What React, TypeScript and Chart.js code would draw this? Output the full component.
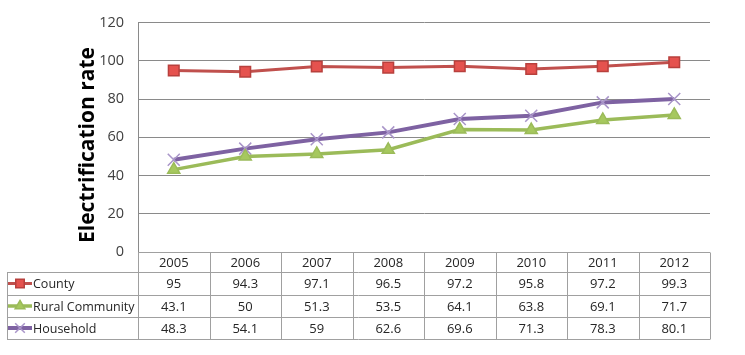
import React, { useEffect, useRef } from 'react';
import { Chart, registerables } from 'chart.js';
import { drawPoint } from 'chart.js/helpers';

Chart.register(...registerables);

const years = ['2005', '2006', '2007', '2008', '2009', '2010', '2011', '2012'];
const county = [95, 94.3, 97.1, 96.5, 97.2, 95.8, 97.2, 99.3];
const rural = [43.1, 50, 51.3, 53.5, 64.1, 63.8, 69.1, 71.7];
const household = [48.3, 54.1, 59, 62.6, 69.6, 71.3, 78.3, 80.1];
const seriesNames = ['County', 'Rural Community', 'Household'];
const yMin = 0;
const yMax = 120;
const yStep = 20;
const yTitle = 'Electrification rate';

const FONT = "'Open Sans', 'Noto Sans', sans-serif";
const GRID = '#8a8a8a';
const TABLE_LINE = '#a0a0a0';

const styles = [
  { line: '#C0504D', fill: '#E5524E', border: '#B8403D', point: 'rect', radius: 7.5, width: 3 },
  { line: '#9BBB59', fill: '#A6C85E', border: '#9BBB59', point: 'triangle', radius: 7, width: 3.5 },
  { line: '#7E62A2', fill: '#A995C9', border: '#A995C9', point: 'crossRot', radius: 8.5, width: 4 },
];

const tablePlugin = {
  id: 'dataTable',
  afterDraw(chart: any) {
    const { ctx, chartArea } = chart;
    const left = chartArea.left;
    const right = chartArea.right;
    const top = chartArea.bottom;
    const n = years.length;
    const colW = (right - left) / n;
    const tableLeft = 7;
    const rowBounds = [top, top + 20, top + 43, top + 65, top + 87];
    const rows = [county, rural, household];

    ctx.save();
    ctx.strokeStyle = TABLE_LINE;
    ctx.lineWidth = 1;
    ctx.beginPath();
    rowBounds.forEach((y, i) => {
      const yy = Math.round(y) + 0.5;
      ctx.moveTo(i === 0 ? left : tableLeft, yy);
      ctx.lineTo(right, yy);
    });
    for (let i = 0; i <= n; i++) {
      const xx = Math.round(left + i * colW) + 0.5;
      ctx.moveTo(xx, Math.round(rowBounds[0]) + 0.5);
      ctx.lineTo(xx, Math.round(rowBounds[4]) + 0.5);
    }
    ctx.moveTo(tableLeft + 0.5, Math.round(rowBounds[1]) + 0.5);
    ctx.lineTo(tableLeft + 0.5, Math.round(rowBounds[4]) + 0.5);
    ctx.stroke();

    ctx.fillStyle = '#262626';
    ctx.font = `13px ${FONT}`;
    ctx.textAlign = 'center';
    ctx.textBaseline = 'middle';
    const xScale = chart.scales.x;
    years.forEach((yr, i) => {
      const cx = xScale.getPixelForValue(i);
      ctx.fillText(yr, cx, (rowBounds[0] + rowBounds[1]) / 2 + 1);
      rows.forEach((r, j) => {
        ctx.fillText(String(r[i]), cx, (rowBounds[j + 1] + rowBounds[j + 2]) / 2 + 1);
      });
    });

    ctx.font = `12.5px ${FONT}`;
    rows.forEach((_, j) => {
      const cy = (rowBounds[j + 1] + rowBounds[j + 2]) / 2;
      const s = styles[j];
      ctx.strokeStyle = s.line;
      ctx.lineWidth = s.width;
      ctx.beginPath();
      ctx.moveTo(8, cy);
      ctx.lineTo(32, cy);
      ctx.stroke();
      ctx.fillStyle = s.fill;
      ctx.strokeStyle = s.border;
      ctx.lineWidth = 1.5;
      drawPoint(ctx, { pointStyle: s.point, radius: s.radius * 0.8, rotation: 0, borderWidth: 1.5 }, 20, cy);
      ctx.fillStyle = '#262626';
      ctx.textAlign = 'left';
      ctx.fillText(seriesNames[j], 33, cy + 1);
    });

    ctx.save();
    ctx.translate(94, 145);
    ctx.rotate(-Math.PI / 2);
    ctx.font = `bold 21px ${FONT}`;
    ctx.fillStyle = '#000000';
    ctx.textAlign = 'center';
    ctx.textBaseline = 'alphabetic';
    ctx.fillText(yTitle, 0, 0);
    ctx.restore();

    ctx.restore();
  },
};

export default function App() {
  const canvasRef = useRef<HTMLCanvasElement | null>(null);

  useEffect(() => {
    if (!canvasRef.current) return;
    const data = [county, rural, household];
    const chart = new Chart(canvasRef.current, {
      type: 'line',
      data: {
        labels: years,
        datasets: data.map((d, i) => ({
          label: seriesNames[i],
          data: d,
          borderColor: styles[i].line,
          borderWidth: styles[i].width,
          backgroundColor: styles[i].fill,
          pointStyle: styles[i].point as any,
          pointRadius: styles[i].radius,
          pointBackgroundColor: styles[i].fill,
          pointBorderColor: styles[i].border,
          pointBorderWidth: 1.5,
          tension: 0,
          fill: false,
        })),
      },
      options: {
        animation: false,
        responsive: true,
        maintainAspectRatio: false,
        layout: {
          autoPadding: false,
          padding: { left: 0, top: 9, right: 35, bottom: 103 },
        },
        plugins: {
          legend: { display: false },
          tooltip: { enabled: false },
          title: { display: false },
        },
        scales: {
          x: {
            type: 'category',
            display: false,
            offset: true,
          },
          y: {
            min: yMin,
            max: yMax,
            ticks: {
              stepSize: yStep,
              padding: 14,
              color: '#404040',
              font: { family: FONT, size: 14.5 },
            },
            grid: {
              color: GRID,
              drawTicks: false,
            },
            border: { display: true, color: GRID },
            afterFit: (scale: any) => {
              scale.width = 138;
            },
          },
        },
      },
      plugins: [tablePlugin],
    });
    return () => chart.destroy();
  }, []);

  return (
    <div style={{ position: 'absolute', left: 0, top: 0, width: 745, height: 355, background: '#ffffff' }}>
      <canvas ref={canvasRef} />
    </div>
  );
}
